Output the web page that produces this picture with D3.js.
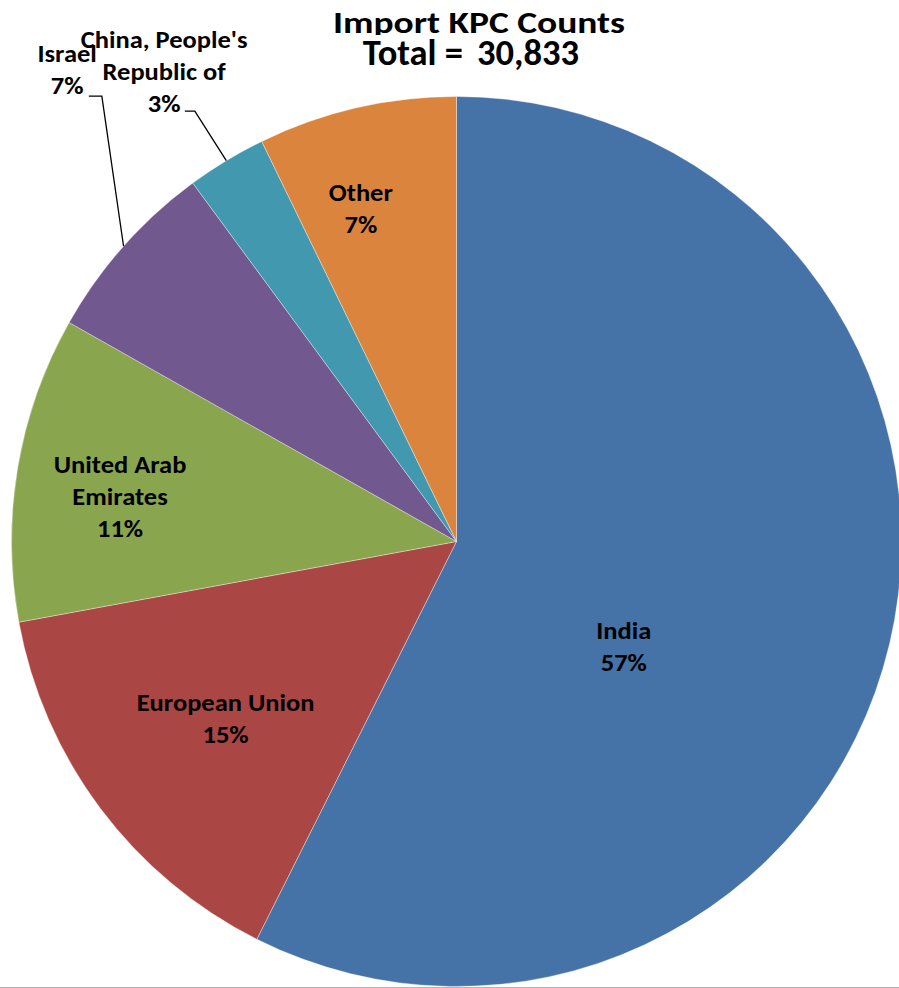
<!DOCTYPE html>
<html>
<head>
<meta charset="utf-8">
<script src="https://cdn.jsdelivr.net/npm/d3@7/dist/d3.min.js"></script>
<style>
  html, body { margin: 0; padding: 0; background: #fff; }
  svg { display: block; }
  text { font-family: Carlito, Calibri, Lato, "Open Sans", sans-serif; font-weight: bold; fill: #000; }
</style>
</head>
<body>
<script>
// ---- data ----
const categories = ["India", "European Union", "United Arab Emirates", "Israel", "China, People's Republic of", "Other"];
const values = [17700, 4530, 3420, 2070, 890, 2223];
const labelLines = [["India"], ["European Union"], ["United Arab", "Emirates"], ["Israel"], ["China, People's", "Republic of"], ["Other"]];
const colors = ["#4572A7", "#AA4643", "#89A54E", "#71588F", "#4198AF", "#DB843D"];
const titleLines = ["Import KPC Counts", "Total ="];

// ---- layout (label anchors relative to pie centre, in radius units) ----
const labelPos = [
  [0.376, 0.219], [-0.519, 0.382], [-0.756, -0.155],
  [-0.875, -1.078], [-0.657, -1.110], [-0.215, -0.765]
];
const leaderElbow = [null, null, null, [-0.797, -1.001, 13], [-0.588, -0.967, 10], null];

const W = 899, H = 988;
const cx = 456.5, cy = 541.5, R = 445;
const fontSize = 25, lineH = 32, stretchX = 1.06;

const svg = d3.select("body").append("svg").attr("width", W).attr("height", H);
const defs = svg.append("defs");
defs.append("clipPath").attr("id", "titleClip")
  .append("rect").attr("x", 0).attr("y", 0).attr("width", W).attr("height", 35);

const data = categories.map((c, i) => ({ name: c, value: values[i], i }));
const total = d3.sum(values);
const pie = d3.pie().value(d => d.value).sort(null).startAngle(0).endAngle(2 * Math.PI);
const arcs = pie(data);
const arc = d3.arc().innerRadius(0).outerRadius(R);

const g = svg.append("g").attr("transform", `translate(${cx},${cy})`);
g.selectAll("path.slice").data(arcs).join("path")
  .attr("class", "slice")
  .attr("d", arc)
  .attr("fill", d => colors[d.data.i])
  .attr("stroke", "#ffffff")
  .attr("stroke-opacity", 0.35)
  .attr("stroke-width", 1);

// leader lines
const edgeArc = d3.arc().innerRadius(R).outerRadius(R);
arcs.forEach(a => {
  const le = leaderElbow[a.data.i];
  if (!le) return;
  const [ex, ey] = edgeArc.centroid(a);
  const bx = le[0] * R, by = le[1] * R;
  g.append("polyline")
    .attr("points", `${ex},${ey} ${bx},${by} ${bx - le[2]},${by}`)
    .attr("fill", "none").attr("stroke", "#000").attr("stroke-width", 1.3);
});

// data labels
const pct = d3.format(".0%");
arcs.forEach(a => {
  const i = a.data.i;
  const lines = labelLines[i].concat([pct(a.data.value / total)]);
  const t = g.append("text")
    .attr("text-anchor", "middle")
    .attr("transform", `translate(${labelPos[i][0] * R},${labelPos[i][1] * R}) scale(${stretchX},1)`)
    .style("font-size", fontSize + "px");
  lines.forEach((l, k) => {
    t.append("tspan").attr("x", 0).attr("y", k * lineH).text(l);
  });
});

// title
svg.append("g").attr("clip-path", "url(#titleClip)")
  .append("text")
  .attr("transform", "translate(479,33.3) scale(1,0.8)")
  .attr("text-anchor", "middle")
  .style("font-size", "37.5px").text(titleLines[0]);
svg.append("text").attr("x", 463).attr("y", 65).attr("text-anchor", "end")
  .style("font-size", "36.5px").text(titleLines[1]);
svg.append("text").attr("x", 477).attr("y", 65).attr("text-anchor", "start")
  .style("font-size", "36.5px").text(d3.format(",")(total));

// bottom border
svg.append("line").attr("x1", 0).attr("x2", W).attr("y1", 987.5).attr("y2", 987.5)
  .attr("stroke", "#b3b3b3").attr("stroke-width", 1);
</script>
</body>
</html>
